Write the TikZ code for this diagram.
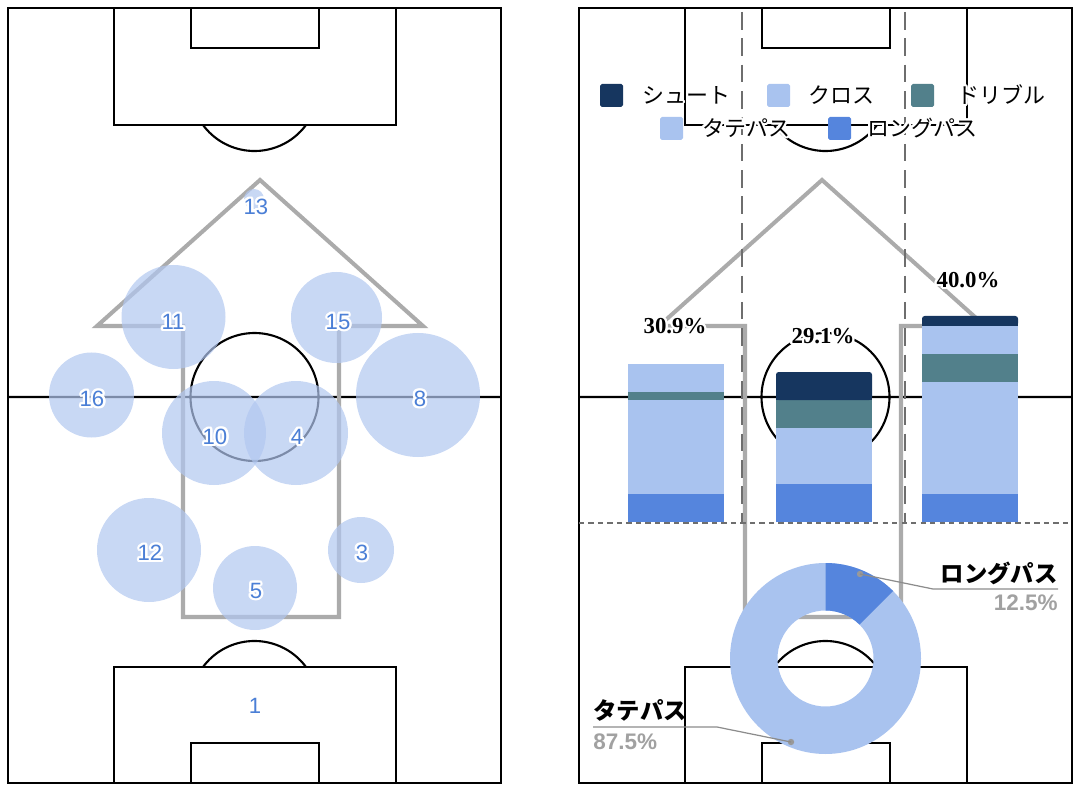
\documentclass[tikz,border=0pt]{standalone}
\usepackage{fontspec}
\setmainfont{Liberation Sans}
\newfontfamily\jpfont{Noto Sans CJK JP}
\newfontfamily\pctfont{Liberation Serif}
\usepackage{contour}
\contourlength{1.3pt}
\definecolor{shootc}{HTML}{16365F}
\definecolor{crossc}{HTML}{A9C3EF}
\definecolor{dribc}{HTML}{52808B}
\definecolor{tatec}{HTML}{A9C3EF}
\definecolor{longc}{HTML}{5585DD}
\definecolor{bubblec}{HTML}{B1C7F0}
\definecolor{numc}{HTML}{4B7FD6}
\definecolor{arrowc}{HTML}{ABABAB}
\definecolor{zonec}{HTML}{6E6E6E}
\begin{document}
\begin{tikzpicture}[x=0.02cm, y=-0.02cm, line join=miter,
	pitchline/.style={line width=1.2pt},
	arrowline/.style={draw=arrowc, line width=2.3pt},
	bubble/.style={fill=bubblec, fill opacity=0.7},
	num/.style={text=numc, inner sep=0pt, font=\fontsize{12.6}{15}\selectfont},
	zone/.style={draw=zonec, line width=1.5pt, dash pattern=on 10pt off 5pt},
	split/.style={draw=zonec, line width=1.3pt, dash pattern=on 3pt off 2.4pt},
	key/.style={inner sep=0pt, anchor=west, font=\jpfont\fontsize{12.5}{14}\selectfont},
	pct/.style={inner sep=0pt, font=\pctfont\bfseries\fontsize{13}{15}\selectfont},
	dlab/.style={inner sep=0pt, font=\jpfont\bfseries\fontsize{13.3}{15}\selectfont},
	dval/.style={inner sep=0pt, text=black!37, font=\bfseries\fontsize{12.8}{15}\selectfont},
	leader/.style={draw=black!45, line width=0.7pt}]
\useasboundingbox (0,0) rectangle (1078,790);
% pitches
\foreach \dx in {0,571}{
	\begin{scope}[shift={(\dx,0)}]
		\draw[line width=1.6pt] (8,8) rectangle (501,783);
		\draw[pitchline] (8,397) -- (501,397) (254.5,397) circle (64);
		\draw[pitchline] (114,8) rectangle (396,125) (191,8) rectangle (319,48);
		\draw[pitchline] (114,783) rectangle (396,667) (191,783) rectangle (319,743);
		\draw[pitchline] (306,125) arc (36.4:143.6:64) (306,667) arc (-36.4:-143.6:64);
	\end{scope}}
\foreach \s in {0,562}
	\draw[arrowline, shift={(\s,0)}] (183,617) -- (183,326) -- (97,326) -- (260,180) -- (423,326) -- (339,326) -- (339,617) -- cycle;
% players
\foreach \x/\y/\r in {254/199/10, 173.5/317/52, 336.5/317.5/45.5, 91.5/395/42.5, 418/395/62, 214/433/52, 296/433/52, 149/550/52, 255/588/42, 361/550/33}
	\fill[bubble] (\x,\y) circle (\r);
\foreach \n/\x/\y in {13/256/208, 11/173/323, 15/338/323, 16/92/400, 8/420/400, 10/215/438, 4/297/438, 12/150/554, 5/256/592, 3/362/554, 1/255/707}
	\node[num] (p\n) at (\x,\y) {\contour{white}{\n}};
% zones and bars
\draw[zone] (742,12) -- (742,523) (905,12) -- (905,523);
\draw[split] (579,523) -- (1072,523);
\foreach \x/\t/\b/\c in {628/364/392/crossc, 628/392/400/dribc, 628/400/494/tatec, 628/494/522/longc, 776/400/428/dribc, 776/428/484/tatec, 776/484/522/longc, 922/326/354/crossc, 922/354/382/dribc, 922/382/494/tatec, 922/494/522/longc}
	\fill[\c] (\x,\t) rectangle (\x+96,\b);
\foreach \x/\t/\b in {776/372/400, 922/316/326}{
	\fill[shootc, rounded corners=1.5pt] (\x,\t) rectangle (\x+96,\b);
	\fill[shootc] (\x,\t+4) rectangle (\x+96,\b);}
\node[pct] (pctl) at (675,327) {\contour{white}{30.9\%}};
\node[pct] (pctm) at (823,337) {\contour{white}{29.1\%}};
\node[pct] (pctr) at (968,281) {\contour{white}{40.0\%}};
% legend
\foreach \x/\y/\c in {600/84/shootc, 767/84/crossc, 911/84/dribc, 660/117/tatec, 828/117/longc}
	\fill[\c, rounded corners=1pt] (\x,\y) rectangle (\x+23,\y+23);
\node[key] (kshoot) at (642,96) {\contour{white}{シュート}};
\node[key] (kcross) at (808,96) {\contour{white}{クロス}};
\node[key] (kdrib) at (957,96) {\contour{white}{ドリブル}};
\node[key] (ktate) at (702,129) {\contour{white}{タテパス}};
\node[key] (klong) at (867,129) {\contour{white}{ロングパス}};
% donut
\coordinate (dc) at (825.5,658.5);
\fill[tatec, even odd rule] (dc) circle (95.5) (dc) circle (48);
\fill[longc] ([shift={(-90:95.5)}]dc) arc (-90:-45:95.5) -- ([shift={(-45:48)}]dc) arc (-45:-90:48) -- cycle;
\coordinate (ldot) at (860,574);
\coordinate (lbend) at (933,589);
\coordinate (lend) at (1058,589);
\coordinate (tdot) at (791,742);
\coordinate (tbend) at (717,727);
\coordinate (tend) at (593,727);
\fill[black!40] (ldot) circle (3.2) (tdot) circle (3.2);
\draw[leader] (ldot) -- (lbend) -- (lend);
\draw[leader] (tdot) -- (tbend) -- (tend);
\node[dlab, anchor=east] (llab) at (1058,573) {ロングパス};
\node[dval, anchor=east] (lval) at (1058,603) {12.5\%};
\node[dlab, anchor=west] (tlab) at (593,710) {タテパス};
\node[dval, anchor=west] (tval) at (593,742) {87.5\%};
\end{tikzpicture}
\end{document}
